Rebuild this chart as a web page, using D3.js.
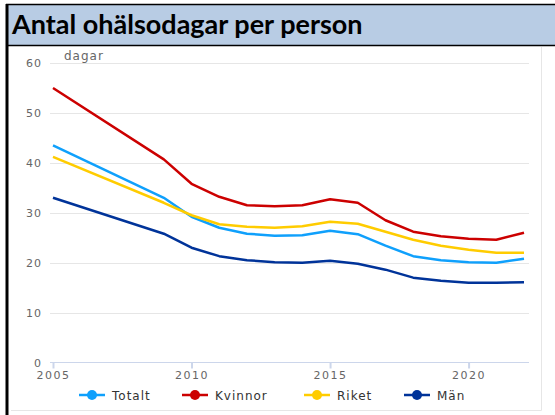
<!DOCTYPE html>
<html>
<head>
<meta charset="utf-8">
<script src="https://cdn.jsdelivr.net/npm/d3@7"></script>
<style>
  body { margin: 0; background: #fff; }
  svg { display: block; }
</style>
</head>
<body>
<div id="chart"></div>
<script>
// chart size
const width = 555;
const height = 415;

// data
const years = [2005, 2009, 2010, 2011, 2012, 2013, 2014, 2015, 2016, 2017, 2018, 2019, 2020, 2021, 2022];
const totalt  = [43.5, 33.0, 29.2, 27.0, 25.8, 25.4, 25.5, 26.4, 25.7, 23.4, 21.3, 20.5, 20.1, 20.0, 20.8];
const kvinnor = [55.0, 40.7, 35.8, 33.2, 31.5, 31.3, 31.5, 32.7, 32.0, 28.5, 26.2, 25.3, 24.8, 24.6, 26.0];
const riket   = [41.2, 32.0, 29.5, 27.7, 27.2, 27.0, 27.3, 28.2, 27.8, 26.2, 24.6, 23.4, 22.6, 22.0, 22.0];
const man     = [33.0, 25.8, 23.0, 21.3, 20.5, 20.1, 20.0, 20.4, 19.8, 18.6, 17.0, 16.4, 16.0, 16.0, 16.1];
const seriesNames = ["Totalt", "Kvinnor", "Riket", "Män"];
const yTicks = [0, 10, 20, 30, 40, 50, 60];
const xTicks = [2005, 2010, 2015, 2020];

const colors = ["#0fa0fc", "#cc0000", "#ffcc00", "#003399"];
const allSeries = [totalt, kvinnor, riket, man];

const svg = d3.select("#chart")
  .append("svg")
  .attr("width", width)
  .attr("height", height);

// title band
svg.append("rect")
  .attr("x", 6).attr("y", 4)
  .attr("width", width - 6).attr("height", 41)
  .attr("fill", "#b8cce4");
svg.append("line")
  .attr("x1", 6).attr("x2", width).attr("y1", 4.5).attr("y2", 4.5)
  .attr("stroke", "#000").attr("stroke-width", 1.5);
svg.append("line")
  .attr("x1", 6).attr("x2", width).attr("y1", 45.5).attr("y2", 45.5)
  .attr("stroke", "#000").attr("stroke-width", 1.5);
svg.append("line")
  .attr("x1", 7).attr("x2", 7).attr("y1", 4).attr("y2", height)
  .attr("stroke", "#000").attr("stroke-width", 3);

svg.append("text")
  .attr("x", 12)
  .attr("y", 34)
  .style("font-family", "Lato, 'Open Sans', sans-serif")
  .style("font-weight", "bold")
  .style("font-size", "27px")
  .style("fill", "#000")
  .text("Antal ohälsodagar per person");

// panel border (right and bottom)
svg.append("path")
  .attr("d", "M541.5,47 V410.5 H11")
  .attr("fill", "none")
  .attr("stroke", "#e6e6e6");

// scales
const x = d3.scaleLinear()
  .domain([2005, 2022])
  .range([53, 524]);

const y = d3.scaleLinear()
  .domain([0, 60])
  .range([362.5, 63]);

// grid lines
svg.append("g")
  .selectAll("line")
  .data(yTicks.filter(d => d > 0))
  .enter()
  .append("line")
  .attr("x1", 50).attr("x2", 529)
  .attr("y1", d => Math.round(y(d)) + 0.5)
  .attr("y2", d => Math.round(y(d)) + 0.5)
  .attr("stroke", "#e6e6e6");

// y axis labels
svg.append("g")
  .selectAll("text")
  .data(yTicks)
  .enter()
  .append("text")
  .attr("x", 42)
  .attr("y", d => y(d) + 4)
  .attr("text-anchor", "end")
  .style("font-family", "'DejaVu Sans', sans-serif")
  .style("font-size", "11px")
  .style("letter-spacing", "1px")
  .style("fill", "#666")
  .text(d => d);

svg.append("text")
  .attr("x", 64)
  .attr("y", 60)
  .style("font-family", "'DejaVu Sans', sans-serif")
  .style("font-size", "12px")
  .style("letter-spacing", "1px")
  .style("fill", "#666")
  .text("dagar");

// x axis
const xAxis = svg.append("g")
  .attr("transform", "translate(0," + 362.5 + ")")
  .call(d3.axisBottom(x).tickValues(xTicks).tickSize(6).tickFormat(d3.format("d")));
xAxis.select(".domain").attr("d", "M50,0H529").attr("stroke", "#ccd6eb");
xAxis.selectAll(".tick line").attr("stroke", "#ccd6eb").attr("stroke-width", 2);
xAxis.selectAll(".tick text")
  .attr("y", 9)
  .style("font-family", "'DejaVu Sans', sans-serif")
  .style("font-size", "11px")
  .style("letter-spacing", "1.5px")
  .style("fill", "#666");

// lines
const line = d3.line()
  .x((d, i) => x(years[i]))
  .y(d => y(d));

svg.append("g")
  .selectAll("path")
  .data(allSeries)
  .enter()
  .append("path")
  .attr("d", line)
  .attr("fill", "none")
  .attr("stroke", (d, i) => colors[i])
  .attr("stroke-width", 2.5)
  .attr("stroke-linejoin", "round");

// legend
const legendX = [92, 195, 317, 417];
const legend = svg.selectAll(".legend")
  .data(seriesNames)
  .enter()
  .append("g")
  .attr("class", "legend")
  .attr("transform", (d, i) => "translate(" + legendX[i] + ",395)");

legend.append("line")
  .attr("x1", -13).attr("x2", 13)
  .attr("stroke", (d, i) => colors[i])
  .attr("stroke-width", 2.5);
legend.append("circle")
  .attr("r", 5)
  .attr("fill", (d, i) => colors[i]);
legend.append("text")
  .attr("x", 20)
  .attr("y", 4.5)
  .style("font-family", "'DejaVu Sans', sans-serif")
  .style("font-size", "12px")
  .style("letter-spacing", "1px")
  .style("fill", "#333")
  .text(d => d);
</script>
</body>
</html>
